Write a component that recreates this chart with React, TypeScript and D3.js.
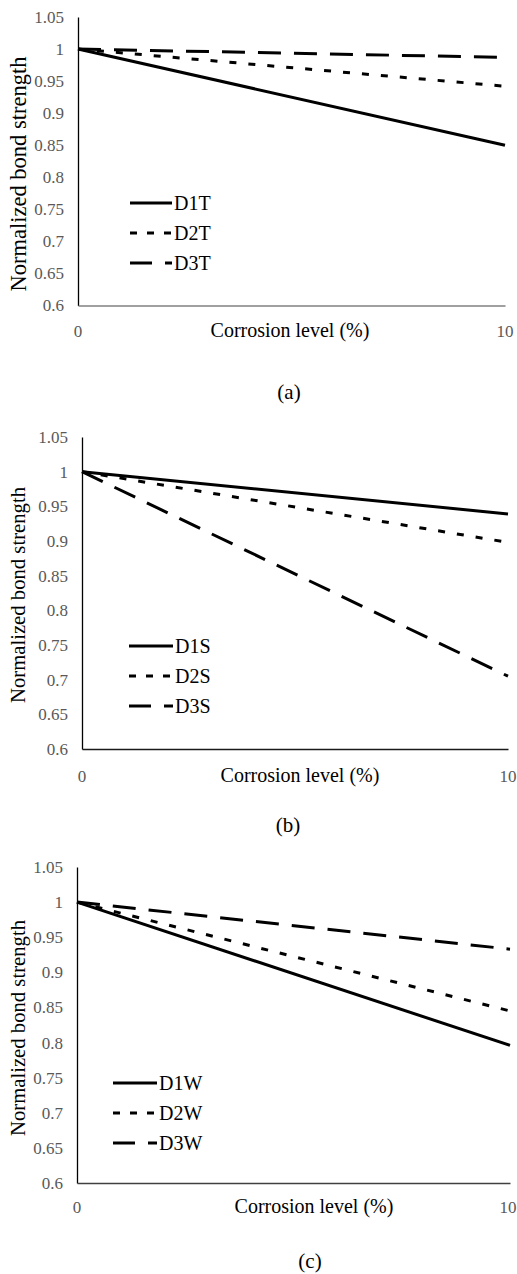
import React, { useEffect, useRef } from 'react';
import * as d3 from 'd3';

// corrosion level (x) and normalized bond strength (y)
const xLevels = [0, 10];
const yTickValues = [0.6, 0.65, 0.7, 0.75, 0.8, 0.85, 0.9, 0.95, 1, 1.05];

const namesT = ['D1T', 'D2T', 'D3T'];
const d1t = [1, 0.85];
const d2t = [1, 0.942];
const d3t = [1, 0.987];

const namesS = ['D1S', 'D2S', 'D3S'];
const d1s = [1, 0.939];
const d2s = [1, 0.898];
const d3s = [1, 0.705];

const namesW = ['D1W', 'D2W', 'D3W'];
const d1w = [1, 0.796];
const d2w = [1, 0.845];
const d3w = [1, 0.933];

const panels = [
    {
        names: namesT, values: [d1t, d2t, d3t], caption: '(a)',
        left: 78, right: 505, top: 17, bottom: 305.5, xAxisColor: '#808080',
        titleX: 26, titleY: 174, titleSize: 22.5,
        xTitleX: 290, xLabelBase: 337, captionX: 289, captionY: 399,
        legendX: 130, legendLen: 42, legendY: [203, 233, 263],
    },
    {
        names: namesS, values: [d1s, d2s, d3s], caption: '(b)',
        left: 82, right: 508, top: 437, bottom: 749, xAxisColor: '#1a1a1a',
        titleX: 25, titleY: 595, titleSize: 20.7,
        xTitleX: 300, xLabelBase: 782, captionX: 288, captionY: 832,
        legendX: 129, legendLen: 44, legendY: [646, 676, 706],
    },
    {
        names: namesW, values: [d1w, d2w, d3w], caption: '(c)',
        left: 77, right: 510, top: 867, bottom: 1183, xAxisColor: '#404040',
        titleX: 25, titleY: 1028, titleSize: 20.7,
        xTitleX: 314, xLabelBase: 1213, captionX: 310, captionY: 1268,
        legendX: 113, legendLen: 44, legendY: [1083, 1113, 1143],
    },
];

const lineDash = [null, '7 12', '23 13'];
const legendDash = [null, '7 10', '22 13'];
const FONT = '"Liberation Serif", "Times New Roman", Times, serif';

function App() {
    const svgRef = useRef<SVGSVGElement>(null);

    useEffect(() => {
        const svg = d3.select(svgRef.current);
        svg.selectAll('*').remove();

        panels.forEach(p => {
            const x = d3.scaleLinear().domain([0, 10]).range([p.left, p.right]);
            const y = d3.scaleLinear().domain([0.6, 1.05]).range([p.bottom, p.top]);
            const g = svg.append('g');

            // y axis
            g.append('g')
                .attr('transform', `translate(${p.left},0)`)
                .call(d3.axisLeft(y).tickValues(yTickValues).tickSize(0).tickPadding(14)
                    .tickFormat(d => String(+(+d).toFixed(2))))
                .call(a => a.attr('font-family', null).attr('font-size', null))
                .call(a => a.select('.domain').attr('stroke', '#000').attr('stroke-width', 1.3))
                .call(a => a.selectAll('text')
                    .style('font-family', FONT).style('font-size', '17px').attr('fill', '#595959'));

            // x axis
            g.append('g')
                .attr('transform', `translate(0,${p.bottom})`)
                .call(d3.axisBottom(x).tickValues(xLevels).tickSize(0).tickPadding(0)
                    .tickFormat(d => String(d)))
                .call(a => a.attr('font-family', null).attr('font-size', null))
                .call(a => a.select('.domain').attr('stroke', p.xAxisColor).attr('stroke-width', 1.6))
                .call(a => a.selectAll('.tick')
                    .attr('transform', d => `translate(${Math.min(x(d as number), 508)},0)`))
                .call(a => a.selectAll('text')
                    .attr('dy', null)
                    .attr('y', p.xLabelBase - p.bottom)
                    .style('font-family', FONT).style('font-size', '17px').attr('fill', '#595959'));

            g.append('text')
                .attr('x', p.xTitleX).attr('y', p.xLabelBase)
                .attr('text-anchor', 'middle')
                .style('font-family', FONT).style('font-size', '20px').attr('fill', '#000')
                .text('Corrosion level (%)');

            g.append('text')
                .attr('transform', `translate(${p.titleX},${p.titleY}) rotate(-90)`)
                .attr('text-anchor', 'middle')
                .style('font-family', FONT).style('font-size', p.titleSize + 'px').attr('fill', '#000')
                .text('Normalized bond strength');

            // series lines
            const line = d3.line<number>()
                .x((d, i) => x(xLevels[i]))
                .y(d => y(d));

            p.values.forEach((vals, i) => {
                g.append('path')
                    .datum(vals)
                    .attr('fill', 'none')
                    .attr('stroke', '#000')
                    .attr('stroke-width', 3)
                    .attr('stroke-dasharray', lineDash[i])
                    .attr('d', line);
            });

            // legend
            p.names.forEach((name, i) => {
                const ly = p.legendY[i];
                g.append('line')
                    .attr('x1', p.legendX).attr('x2', p.legendX + p.legendLen)
                    .attr('y1', ly).attr('y2', ly)
                    .attr('stroke', '#000').attr('stroke-width', 3)
                    .attr('stroke-dasharray', legendDash[i]);
                g.append('text')
                    .attr('x', p.legendX + p.legendLen + 2).attr('y', ly)
                    .attr('dy', '0.35em')
                    .style('font-family', FONT).style('font-size', '20px').attr('fill', '#000')
                    .text(name);
            });

            g.append('text')
                .attr('x', p.captionX).attr('y', p.captionY)
                .attr('text-anchor', 'middle')
                .style('font-family', FONT).style('font-size', '21px').attr('fill', '#000')
                .text(p.caption);
        });
    }, []);

    return (
        <svg ref={svgRef} width={517} height={1274}
            style={{ position: 'absolute', left: 0, top: 0, display: 'block', background: '#fff' }}></svg>
    );
}

export default App;
